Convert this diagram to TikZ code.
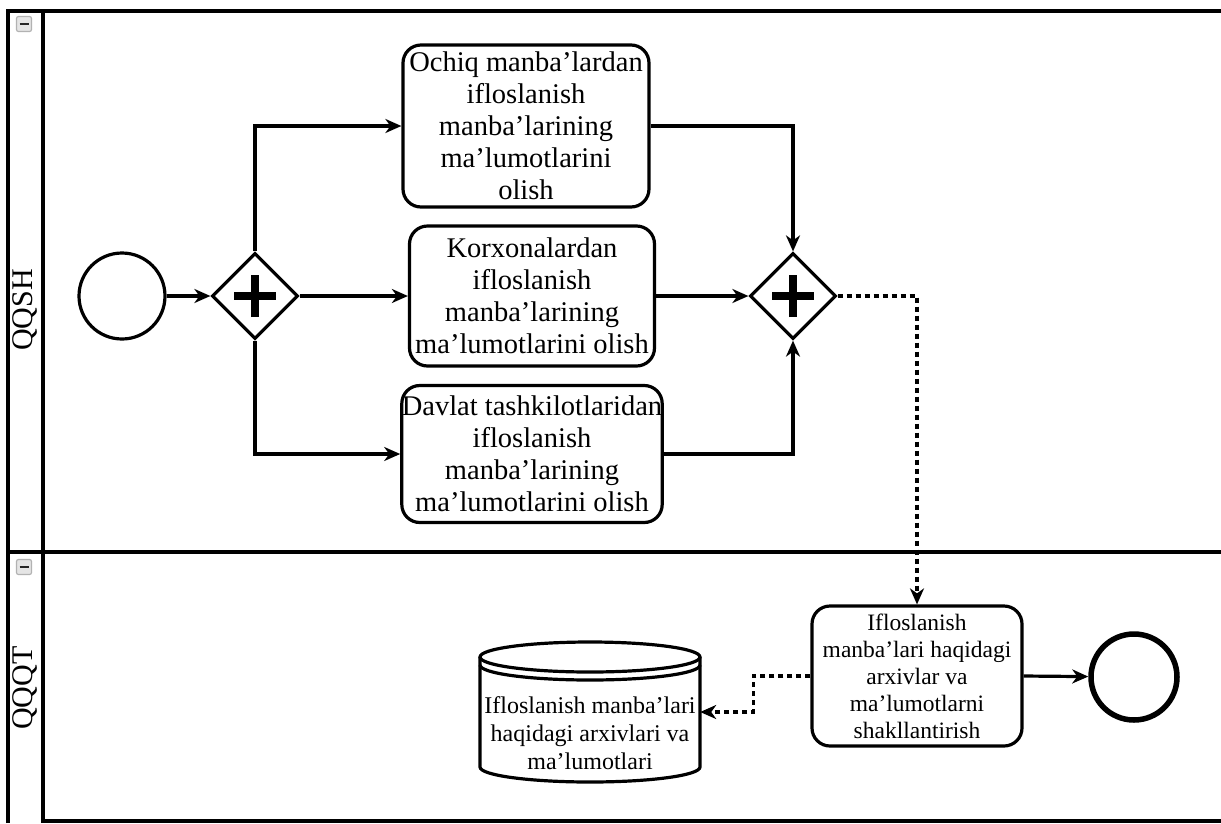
\documentclass[tikz,border=0pt]{standalone}
\usepackage{fontspec}
\setmainfont{Liberation Serif}
\usetikzlibrary{arrows.meta,shapes.geometric}
\begin{document}
\begin{tikzpicture}[x=1pt,y=-1pt,
  pool/.style={line width=3.6pt},
  task/.style={draw, line width=3.2pt, rounded corners=18pt, align=center,
    inner sep=0pt, font=\fontsize{28.5}{32}\selectfont},
  smalltask/.style={task, font=\fontsize{23.5}{27}\selectfont},
  event/.style={draw, circle, line width=3.2pt, minimum size=86pt, inner sep=0pt},
  endevent/.style={event, line width=5.5pt, minimum size=86pt},
  gateway/.style={draw, diamond, line width=3.2pt, minimum width=86pt,
    minimum height=86pt, inner sep=0pt,
    path picture={
      \draw[line width=8pt] (path picture bounding box.center) ++(-21pt,0pt) -- ++(42pt,0pt);
      \draw[line width=8pt] (path picture bounding box.center) ++(0pt,-21pt) -- ++(0pt,42pt);
    }},
  flow/.style={line width=3.2pt, -{Stealth[length=16pt,width=14pt,inset=5pt]}},
  msg/.style={flow, dash pattern=on 5pt off 4pt},
  lanelabel/.style={rotate=90, font=\fontsize{30}{32}\selectfont},
  collapse/.style={draw=gray!60, fill=gray!20, rounded corners=2pt,
    minimum size=15pt, inner sep=0pt, line width=1.2pt,
    path picture={
      \draw[line width=2.5pt, gray!30!black] (path picture bounding box.center) ++(-4.5pt,0pt) -- ++(9pt,0pt);
    }},
  store/.style={line width=3.2pt}
]
\useasboundingbox (0,0) rectangle (1221,823);

% pool and lanes
\draw[pool] (8,823) -- (8,11) -- (1221,11);
\draw[pool] (43,11) -- (43,823);
\draw[pool] (8,552) -- (1221,552);
\draw[pool] (43,821) -- (1221,821);
\node[collapse] (c1) at (24,24) {};
\node[collapse] (c2) at (24,567) {};
\node[lanelabel] (lane1) at (25,310) {QQSH};
\node[lanelabel] (lane2) at (25,688) {QQQT};

% upper lane
\node[event] (start) at (122,296) {};
\node[gateway] (g1) at (255,296) {};
\node[gateway] (g2) at (793,296) {};
\node[task, minimum width=246pt, minimum height=162pt] (t1) at (526,126)
  {Ochiq manba’lardan\\ifloslanish\\manba’larining\\ma’lumotlarini\\olish};
\node[task, minimum width=245pt, minimum height=140pt] (t2) at (532,296)
  {Korxonalardan\\ifloslanish\\manba’larining\\ma’lumotlarini olish};
\node[task, minimum width=241pt, minimum height=137pt] (t3) at (532,454)
  {Davlat tashkilotlaridan\\ifloslanish\\manba’larining\\ma’lumotlarini olish};

% lower lane
\node[smalltask, minimum width=210pt, minimum height=140pt] (t4) at (917,676)
  {Ifloslanish\\manba’lari haqidagi\\arxivlar va\\ma’lumotlarni\\shakllantirish};
\node[endevent] (end) at (1134,677) {};
\node[minimum width=220pt, minimum height=140pt, inner sep=0pt] (db) at (590,712) {};
\draw[store] (480,657) -- (480,767) arc[start angle=180, end angle=0, x radius=110, y radius=15] -- (700,657);
\draw[store, fill=white] (590,657) ellipse[x radius=110, y radius=15];
\draw[store] (480,665) arc[start angle=180, end angle=0, x radius=110, y radius=15];
\node[font=\fontsize{24}{28}\selectfont, align=center] (dbtext) at (590,733)
  {Ifloslanish manba’lari\\haqidagi arxivlari va\\ma’lumotlari};

% sequence and message flows
\draw[flow] (start) -- (g1);
\draw[flow] (g1.north) |- (t1.west);
\draw[flow] (g1.east) -- (g1.east -| t2.west);
\draw[flow] (g1.south) |- (t3.west);
\draw[flow] (t1.east) -| (g2.north);
\draw[flow] (t2.east) -- (g2.west);
\draw[flow] (t3.east) -| (g2.south);
\draw[msg] (g2.east) -| (t4.north);
\draw[flow] (t4.east) -- (end);
\draw[msg] (t4.west) -- ++(-57,0) |- (db.east);
\end{tikzpicture}
\end{document}
